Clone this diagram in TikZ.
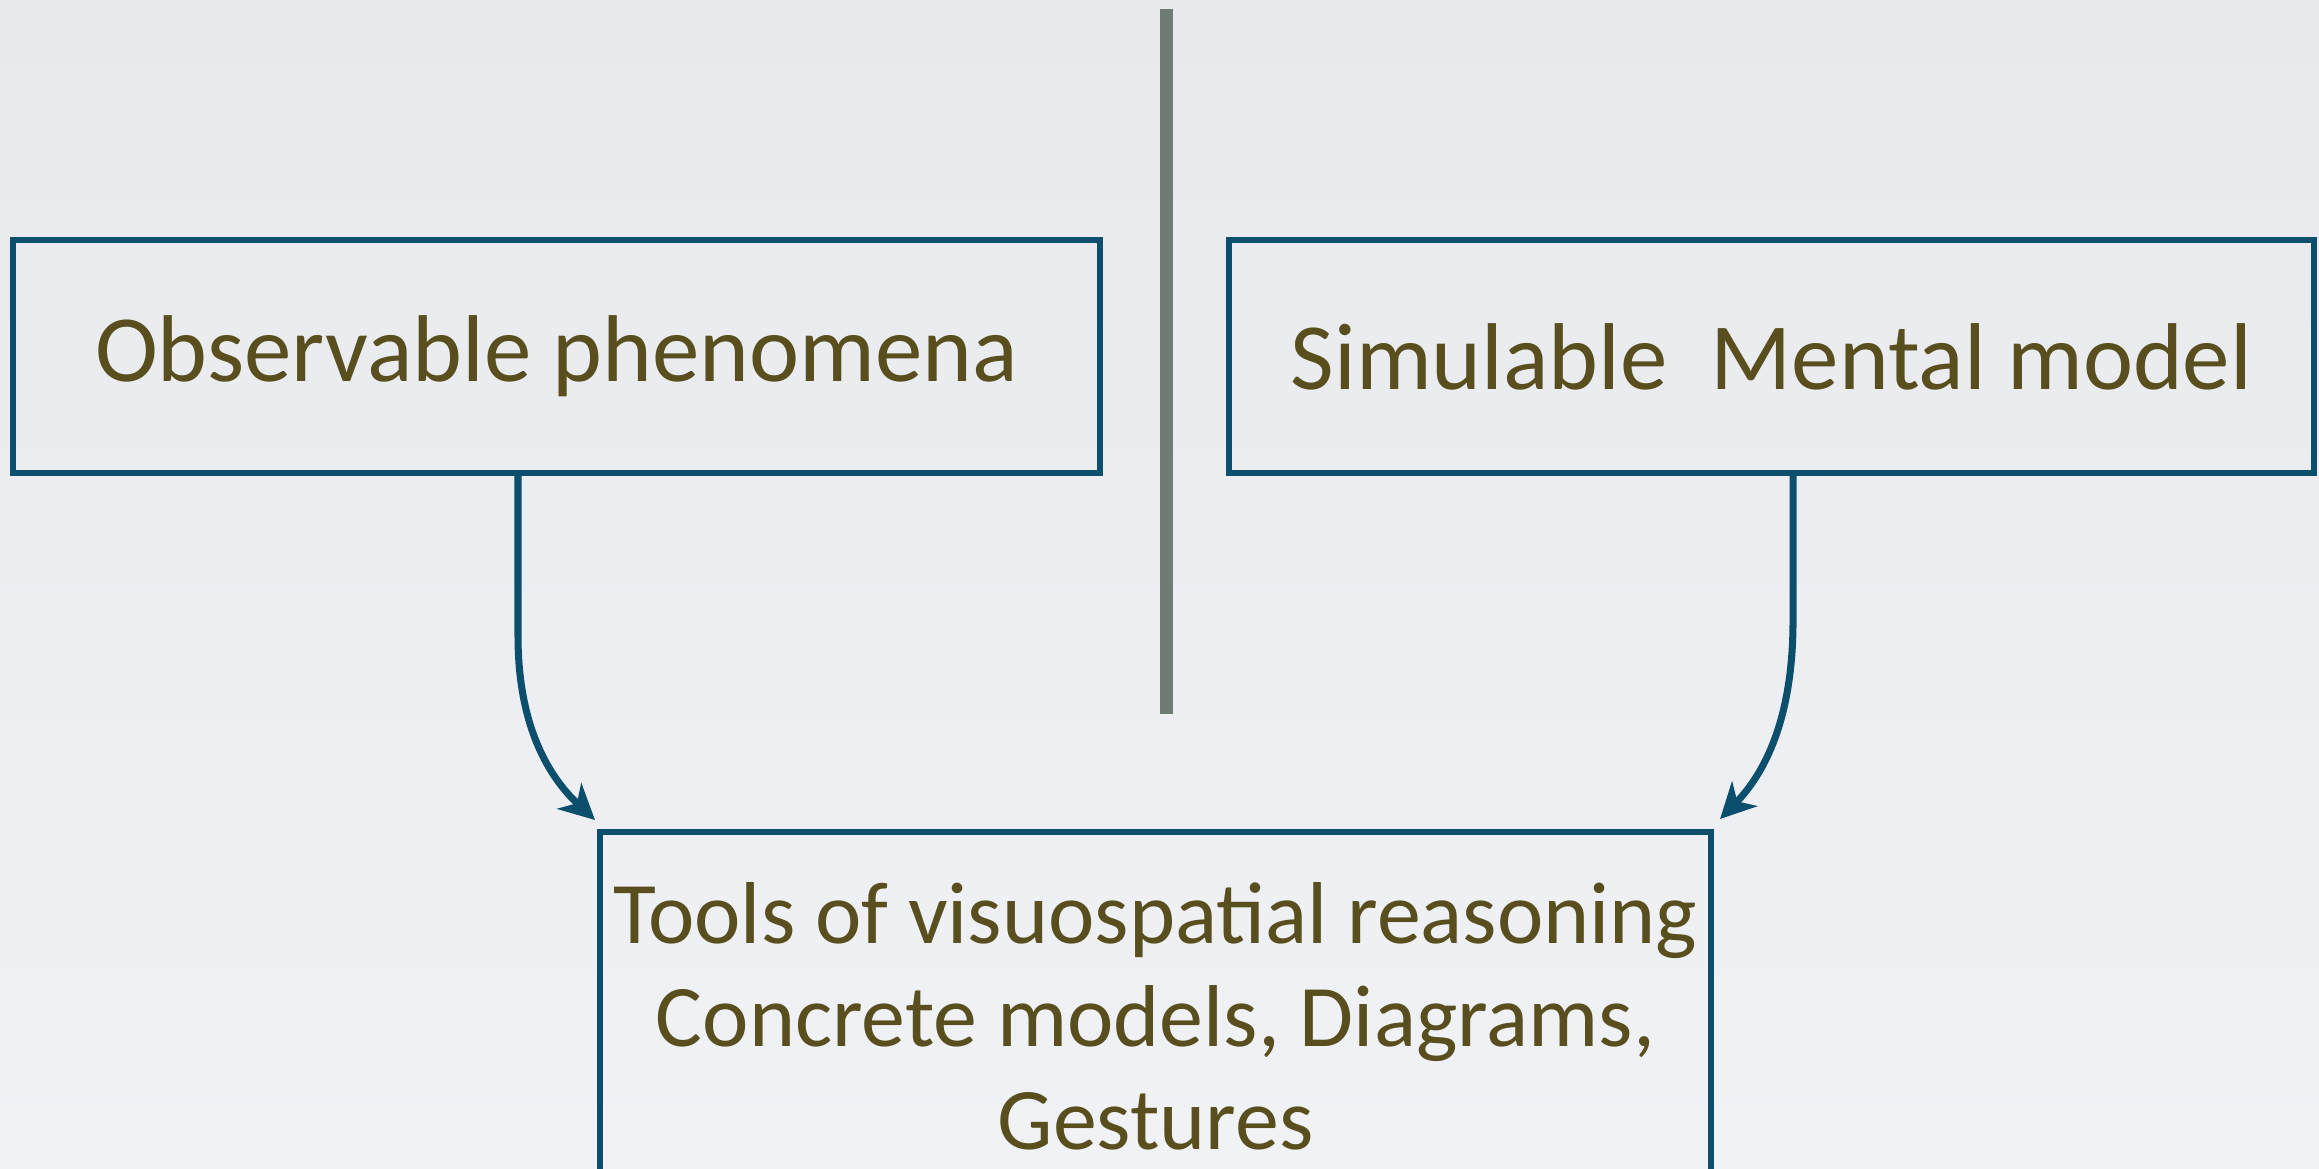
\documentclass[tikz,border=0pt]{standalone}
\usepackage{fontspec}
\setmainfont{Carlito}
\usetikzlibrary{arrows.meta}
\definecolor{boxline}{HTML}{0B4F6C}
\definecolor{boxtext}{HTML}{584E1E}
\definecolor{divider}{HTML}{6F7C74}
\definecolor{bgtop}{HTML}{E7E9ED}
\definecolor{bgbot}{HTML}{F1F2F6}
\tikzset{
  box/.style={draw=boxline, line width=1.6pt, rectangle, align=center, text=boxtext, font=\fontsize{27}{30}\selectfont},
  link/.style={draw=boxline, line width=2pt, -{Stealth[length=10pt,width=10pt,inset=3pt]}}
}
\begin{document}
\begin{tikzpicture}[x=1cm,y=1cm]
\useasboundingbox (0,0) rectangle (23.19,11.68);
\clip (0,0) rectangle (23.19,11.68);
\shade[top color=bgtop, bottom color=bgbot] (0,0) rectangle (23.19,11.68);
% divider
\coordinate (d1) at (11.66,11.59);
\coordinate (d2) at (11.66,4.54);
\draw[divider, line width=3.7pt] (d1) -- (d2);
% boxes
\node[box, minimum width=10.87cm, minimum height=2.33cm] (a) at (5.565,8.115) {Observable phenomena};
\node[box, minimum width=10.85cm, minimum height=2.33cm] (b) at (17.715,8.115) {Simulable\ \ Mental model};
\node[box, minimum width=11.11cm, minimum height=3.68cm, font=\fontsize{25}{29.3}\selectfont] (c) at (11.555,1.52) {Tools of visuospatial reasoning\\Concrete models, Diagrams,\\Gestures};
% arrows
\coordinate (a1) at (5.18,6.95);
\coordinate (a2) at (5.18,5.32);
\coordinate (ta) at (5.95,3.48);
\coordinate (b1) at (17.93,6.95);
\coordinate (b2) at (17.93,5.47);
\coordinate (tb) at (17.20,3.49);
\draw[link] (a1) -- (a2) .. controls (5.18,4.4) and (5.5,3.9) .. (ta);
\draw[link] (b1) -- (b2) .. controls (17.93,4.5) and (17.65,3.95) .. (tb);
\end{tikzpicture}
\end{document}
